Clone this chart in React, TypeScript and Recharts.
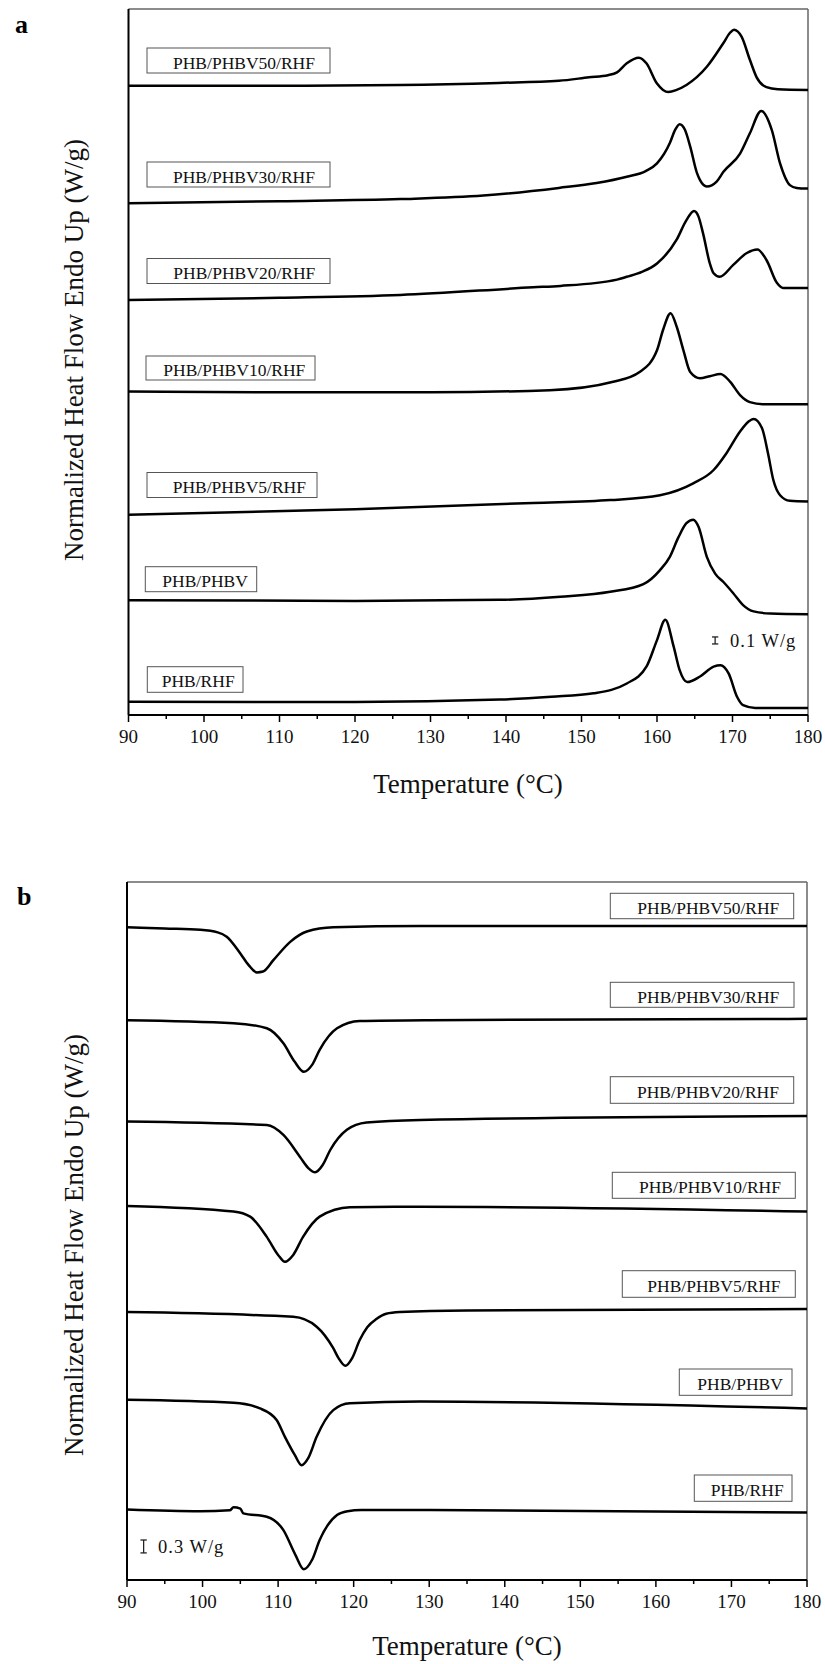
import React from "react";
import { LineChart, Line, XAxis, YAxis, ReferenceLine } from "recharts";

type Pt = [number, number];

const SAMPLES = [
  "PHB/PHBV50/RHF",
  "PHB/PHBV30/RHF",
  "PHB/PHBV20/RHF",
  "PHB/PHBV10/RHF",
  "PHB/PHBV5/RHF",
  "PHB/PHBV",
  "PHB/RHF",
];

const TICKS = [90, 95, 100, 105, 110, 115, 120, 125, 130, 135, 140, 145, 150, 155, 160, 165, 170, 175, 180];

// (a) heating scans, W/g as plotted (curves stacked)
const heatPHBV50: Pt[] = [[90, 8.99], [110, 8.99], [126, 9.0], [139, 9.03], [147, 9.06], [151, 9.11], [153.5, 9.14], [154.7, 9.18], [156, 9.31], [157.6, 9.39], [158.6, 9.31], [160, 9.02], [160.8, 8.93], [161.5, 8.9], [162.6, 8.93], [163.9, 9.0], [166.6, 9.26], [168.8, 9.6], [169.7, 9.75], [170.2, 9.79], [171.2, 9.69], [172.3, 9.36], [173.2, 9.11], [174.5, 8.97], [176, 8.94], [180, 8.93]];
const heatPHBV30: Pt[] = [[90, 7.31], [110, 7.34], [126, 7.37], [137, 7.42], [147, 7.53], [152, 7.6], [156, 7.69], [158.5, 7.77], [160, 7.88], [161.7, 8.17], [162.4, 8.36], [163, 8.44], [163.7, 8.36], [164.4, 8.12], [165.3, 7.74], [165.7, 7.64], [166.6, 7.55], [167.9, 7.62], [168.8, 7.76], [171, 8.02], [172.3, 8.31], [173.8, 8.63], [175.2, 8.36], [176.3, 7.88], [177.6, 7.57], [178.5, 7.53], [180, 7.52]];
const heatPHBV20: Pt[] = [[90, 5.93], [110, 5.96], [126, 6.0], [143.6, 6.11], [147.2, 6.13], [154.7, 6.22], [156, 6.26], [158, 6.33], [160, 6.45], [162.6, 6.79], [163.9, 7.07], [164.9, 7.2], [165.5, 7.12], [166.1, 6.88], [167, 6.45], [167.5, 6.31], [168.3, 6.26], [170.1, 6.43], [171.9, 6.6], [173.3, 6.65], [174.5, 6.5], [175.9, 6.17], [176.7, 6.1], [180, 6.1]];
const heatPHBV10: Pt[] = [[90, 4.62], [110, 4.61], [130, 4.61], [145.8, 4.64], [154.2, 4.76], [157.7, 4.9], [160, 5.21], [160.8, 5.5], [161.8, 5.74], [162.6, 5.55], [163.5, 5.21], [164.4, 4.9], [165.7, 4.81], [167, 4.84], [168.4, 4.87], [169.7, 4.76], [171, 4.57], [172.3, 4.47], [174, 4.44], [180, 4.44]];
const heatPHBV5: Pt[] = [[90, 2.86], [120, 2.94], [143.6, 3.03], [153.8, 3.07], [160.4, 3.14], [164.8, 3.31], [167.5, 3.5], [169.2, 3.74], [171, 4.05], [172.1, 4.19], [172.8, 4.23], [173.9, 4.1], [174.7, 3.74], [175.4, 3.36], [176.3, 3.14], [177.6, 3.06], [180, 3.05]];
const heatPHBV: Pt[] = [[90, 1.64], [120, 1.63], [139.2, 1.645], [147.2, 1.69], [153.8, 1.76], [158.2, 1.87], [160.4, 2.07], [161.7, 2.26], [162.8, 2.53], [163.9, 2.74], [164.8, 2.79], [165.5, 2.69], [166.6, 2.26], [167.7, 2.02], [168.8, 1.9], [170.1, 1.74], [171.4, 1.57], [172.8, 1.48], [175, 1.45], [180, 1.44]];
const heatRHF: Pt[] = [[90, 0.19], [120, 0.185], [139.2, 0.22], [146, 0.26], [151.6, 0.31], [156, 0.45], [158.6, 0.69], [160, 1.07], [161.1, 1.36], [162.2, 0.98], [163, 0.64], [164, 0.47], [165.7, 0.55], [167.5, 0.69], [168.4, 0.71], [169.5, 0.59], [170.6, 0.26], [171.4, 0.14], [173, 0.1], [180, 0.1]];

// (b) cooling scans
const coolPHBV50: Pt[] = [[90, 15.18], [95, 15.15], [99.7, 15.12], [102, 15.06], [103.2, 14.96], [105, 14.57], [106.1, 14.3], [107.2, 14.13], [108, 14.15], [109.4, 14.42], [111.6, 14.84], [113.8, 15.08], [117.3, 15.18], [128.8, 15.21], [180, 15.21]];
const coolPHBV30: Pt[] = [[90, 13.02], [104.1, 12.95], [108.5, 12.83], [110.7, 12.48], [112.2, 12.05], [113.4, 11.82], [114.5, 11.98], [115.5, 12.33], [117.8, 12.83], [120.8, 13.0], [130, 13.02], [180, 13.05]];
const coolPHBV20: Pt[] = [[90, 10.66], [108.5, 10.58], [110.7, 10.35], [112.9, 9.84], [114, 9.58], [114.9, 9.48], [115.9, 9.65], [116.9, 10.0], [119.1, 10.47], [121.7, 10.64], [128.8, 10.7], [180, 10.79]];
const coolPHBV10: Pt[] = [[90, 8.7], [104.1, 8.57], [106.3, 8.45], [108.5, 7.98], [110, 7.56], [110.9, 7.4], [112, 7.56], [113.3, 7.98], [115.5, 8.45], [119.5, 8.67], [128.8, 8.68], [180, 8.57]];
const coolPHBV5: Pt[] = [[90, 6.23], [112, 6.12], [115.1, 5.89], [117.3, 5.39], [118, 5.16], [118.9, 4.98], [119.8, 5.16], [120.8, 5.58], [121.8, 5.88], [123, 6.07], [124.3, 6.19], [126.1, 6.23], [135, 6.27], [180, 6.3]];
const coolPHBV: Pt[] = [[90, 4.19], [104.1, 4.12], [107.6, 3.99], [109.8, 3.72], [110.9, 3.33], [112.2, 2.91], [113.1, 2.67], [114, 2.84], [115.1, 3.33], [117.3, 3.95], [119.5, 4.11], [128.8, 4.15], [180, 3.99]];
const coolRHF: Pt[] = [[90, 1.64], [99.7, 1.6], [103.6, 1.62], [104.1, 1.69], [105, 1.66], [105.4, 1.55], [108.5, 1.47], [110.7, 1.16], [112.3, 0.58], [113.4, 0.25], [114.5, 0.47], [115.5, 0.93], [117.8, 1.51], [119.2, 1.6], [121, 1.63], [130, 1.63], [180, 1.57]];

const heatCurves = [heatPHBV50, heatPHBV30, heatPHBV20, heatPHBV10, heatPHBV5, heatPHBV, heatRHF];
const coolCurves = [coolPHBV50, coolPHBV30, coolPHBV20, coolPHBV10, coolPHBV5, coolPHBV, coolRHF];

const FONT = "'Liberation Serif', 'Times New Roman', serif";

// label box layout (page px)
const boxesA = [
  { x: 147, y: 48, w: 183, h: 25, tx: 173, ty: 68.5 },
  { x: 147, y: 162, w: 183, h: 25, tx: 173, ty: 183.3 },
  { x: 147, y: 258.5, w: 183, h: 25, tx: 173.3, ty: 279.3 },
  { x: 146, y: 356, w: 169, h: 24, tx: 163.3, ty: 375.7 },
  { x: 147, y: 472.5, w: 170, h: 25, tx: 172.7, ty: 493.3 },
  { x: 145.3, y: 566.7, w: 111.4, h: 25, tx: 162.3, ty: 586.7 },
  { x: 147.3, y: 666.7, w: 95.7, h: 25.6, tx: 161.7, ty: 686.7 },
];
const boxesB = [
  { x: 610.3, y: 893.3, w: 183.4, h: 25.4, tx: 637.3, ty: 914.3 },
  { x: 610.3, y: 982.3, w: 183.7, h: 25, tx: 637.3, ty: 1003.3 },
  { x: 610.3, y: 1076.7, w: 183.4, h: 26.6, tx: 637, ty: 1098.3 },
  { x: 612.3, y: 1172.3, w: 183, h: 26, tx: 639, ty: 1193.3 },
  { x: 622.3, y: 1270.7, w: 173, h: 26.6, tx: 647.3, ty: 1292.3 },
  { x: 679.3, y: 1369, w: 112.7, h: 26.3, tx: 697.3, ty: 1390 },
  { x: 694.3, y: 1475, w: 97.7, h: 26.3, tx: 710.7, ty: 1496 },
];

const TempTick = (props: any) => {
  const { x, y, payload } = props;
  const major = payload.value % 10 === 0;
  return (
    <g>
      <line x1={x} x2={x} y1={y} y2={y + (major ? 7 : 4)} stroke="#000" strokeWidth={1.5} />
      {major && (
        <text x={x} y={y + 27.5} textAnchor="middle" fontFamily={FONT} fontSize={19} fill="#111">
          {payload.value}
        </text>
      )}
    </g>
  );
};

function Panel({ curves, yMax, height, margin, bar }: {
  curves: Pt[][];
  yMax: number;
  height: number;
  margin: { top: number; right: number; bottom: number; left: number };
  bar: { t: number; lo: number; hi: number; cap: number };
}) {
  return (
    <LineChart width={825} height={height} margin={margin}>
      <XAxis
        type="number"
        dataKey="t"
        domain={[90, 180]}
        ticks={TICKS}
        interval={0}
        height={30}
        tickSize={0}
        tickMargin={0}
        tickLine={false}
        tick={<TempTick />}
        axisLine={{ stroke: "#000", strokeWidth: 2 }}
        allowDataOverflow
      />
      <YAxis type="number" domain={[0, yMax]} hide allowDataOverflow />
      {/* plot frame */}
      <ReferenceLine y={yMax} stroke="#666" strokeWidth={1.5} ifOverflow="visible" />
      <ReferenceLine x={180} stroke="#666" strokeWidth={1.5} ifOverflow="visible" />
      <ReferenceLine x={90} stroke="#000" strokeWidth={2} ifOverflow="visible" />
      {curves.map((c, i) => (
        <Line
          key={i}
          data={c.map(([t, v]) => ({ t, v }))}
          dataKey="v"
          type="monotone"
          dot={false}
          stroke="#000"
          strokeWidth={2.5}
          isAnimationActive={false}
        />
      ))}
      <ReferenceLine segment={[{ x: bar.t, y: bar.lo }, { x: bar.t, y: bar.hi }]} stroke="#222" strokeWidth={1.3} />
      <ReferenceLine segment={[{ x: bar.t - bar.cap, y: bar.lo }, { x: bar.t + bar.cap, y: bar.lo }]} stroke="#222" strokeWidth={1.3} />
      <ReferenceLine segment={[{ x: bar.t - bar.cap, y: bar.hi }, { x: bar.t + bar.cap, y: bar.hi }]} stroke="#222" strokeWidth={1.3} />
    </LineChart>
  );
}

export default function App() {
  const labelBoxes = (boxes: typeof boxesA) =>
    boxes.map((b, i) => (
      <g key={i}>
        <rect x={b.x} y={b.y} width={b.w} height={b.h} fill="#fff" stroke="#555" strokeWidth={1} />
        <text x={b.tx} y={b.ty} fontFamily={FONT} fontSize={17.5} fill="#111">
          {SAMPLES[i]}
        </text>
      </g>
    ));

  return (
    <div style={{ position: "absolute", left: 0, top: 0, width: 825, height: 1664, background: "#fff", fontFamily: FONT }}>
      <div style={{ position: "absolute", left: 0, top: 0 }}>
        <Panel
          curves={heatCurves}
          yMax={706 / 70}
          height={800}
          margin={{ top: 9, right: 17, bottom: 55, left: 128.5 }}
          bar={{ t: 167.7, lo: 1.015, hi: 1.115, cap: 0.42 }}
        />
      </div>
      <div style={{ position: "absolute", left: 0, top: 820 }}>
        <Panel
          curves={coolCurves}
          yMax={698 / 43}
          height={844}
          margin={{ top: 62, right: 18, bottom: 54, left: 127 }}
          bar={{ t: 92.2, lo: 0.63, hi: 0.93, cap: 0.42 }}
        />
      </div>
      <svg width={825} height={1664} style={{ position: "absolute", left: 0, top: 0, pointerEvents: "none" }}>
        <text x={15} y={33} fontFamily={FONT} fontSize={26} fontWeight="bold" fill="#000">a</text>
        <text x={17} y={905} fontFamily={FONT} fontSize={26} fontWeight="bold" fill="#000">b</text>
        {labelBoxes(boxesA)}
        {labelBoxes(boxesB)}
        <text x={730} y={647.3} fontFamily={FONT} fontSize={18.5} letterSpacing={1} fill="#111">0.1 W/g</text>
        <text x={158} y={1553.3} fontFamily={FONT} fontSize={18.5} letterSpacing={1} fill="#111">0.3 W/g</text>
        <text x={468} y={793.3} textAnchor="middle" fontFamily={FONT} fontSize={27} fill="#111">Temperature (°C)</text>
        <text x={467} y={1655} textAnchor="middle" fontFamily={FONT} fontSize={27} fill="#111">Temperature (°C)</text>
        <text transform="translate(83, 350) rotate(-90)" textAnchor="middle" fontFamily={FONT} fontSize={27} fill="#111">
          Normalized Heat Flow Endo Up (W/g)
        </text>
        <text transform="translate(83, 1245) rotate(-90)" textAnchor="middle" fontFamily={FONT} fontSize={27} fill="#111">
          Normalized Heat Flow Endo Up (W/g)
        </text>
      </svg>
    </div>
  );
}
